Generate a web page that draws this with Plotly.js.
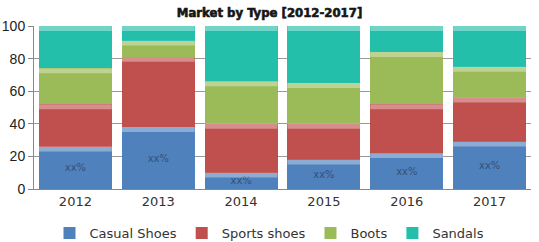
<!DOCTYPE html>
<html>
<head>
<meta charset="utf-8">
<script src="https://cdn.plot.ly/plotly-3.0.1.min.js"></script>
<style>
  html, body { margin: 0; padding: 0; background: #fff; }
  #chart { width: 539px; height: 242px; }
  /* heavier display weight for the chart heading */
  #chart .gtitle { stroke: #161616; stroke-width: 0.6px; }
</style>
</head>
<body>
<div id="chart"></div>
<script>
// Share of market by shoe type, per year (percent, stacked to 100)
const years = ['2012', '2013', '2014', '2015', '2016', '2017'];
const casualShoes = [26, 38, 10, 18, 22, 29];
const sportsShoes = [26, 43, 30, 22, 30, 27];
const boots       = [22, 10, 26, 25, 32, 19];
const sandals     = [26, 9, 34, 35, 16, 25];

const seriesNames = ['Casual Shoes', 'Sports shoes', 'Boots', 'Sandals'];
const seriesColors = ['#4f81bc', '#c0504e', '#9bbb58', '#23bfaa'];
const seriesValues = [casualShoes, sportsShoes, boots, sandals];
const casualLabels = years.map(() => 'xx%');

const traces = seriesValues.map((vals, k) => ({
  type: 'bar',
  name: seriesNames[k],
  x: years,
  y: vals,
  marker: { color: seriesColors[k], line: { width: 0 } },
  text: k === 0 ? casualLabels : undefined,
  textposition: k === 0 ? 'inside' : 'none',
  insidetextanchor: 'middle',
  constraintext: 'none',
  textfont: { family: 'DejaVu Sans Condensed, DejaVu Sans', size: 11, color: '#34507a' },
  hoverinfo: 'x+y+name'
}));

// Glossy highlight band on top of every stacked segment
const shapes = [];
const cum = years.map(() => 0);
seriesValues.forEach((vals) => {
  vals.forEach((v, i) => {
    cum[i] += v;
    shapes.push({
      type: 'rect', xref: 'x', yref: 'y',
      x0: i - 0.44, x1: i + 0.44,
      y0: cum[i] - 3, y1: cum[i],
      fillcolor: 'rgba(255,255,255,0.35)',
      line: { width: 0 },
      layer: 'above'
    });
  });
});

const layout = {
  width: 539,
  height: 242,
  margin: { l: 34, r: 8, t: 26, b: 53 },
  paper_bgcolor: '#ffffff',
  plot_bgcolor: '#ffffff',
  barmode: 'stack',
  bargap: 0.12,
  title: {
    text: '<b>Market by Type [2012-2017]</b>',
    font: { family: 'DejaVu Sans Condensed', size: 13, color: '#161616' },
    x: 0.5, xanchor: 'center',
    yref: 'container', y: 0.95, yanchor: 'middle'
  },
  xaxis: {
    type: 'category',
    showgrid: false,
    zeroline: false,
    showline: true,
    linecolor: '#888',
    linewidth: 1,
    ticks: '',
    automargin: false,
    tickfont: { family: 'DejaVu Sans', size: 13, color: '#333' }
  },
  yaxis: {
    range: [0, 100],
    dtick: 20,
    showgrid: true,
    gridcolor: '#9a9a9a',
    gridwidth: 1,
    zeroline: false,
    showline: true,
    linecolor: '#888',
    linewidth: 1,
    ticks: 'outside',
    ticklen: 5,
    tickcolor: '#888',
    automargin: false,
    tickfont: { family: 'Liberation Sans, Arial', size: 14, color: '#222' }
  },
  shapes: shapes,
  showlegend: true,
  legend: {
    orientation: 'h',
    xref: 'container', yref: 'container',
    x: 0.5, xanchor: 'center',
    y: 0.037, yanchor: 'middle',
    font: { family: 'DejaVu Sans', size: 13, color: '#333' },
    traceorder: 'normal'
  }
};

Plotly.newPlot('chart', traces, layout, { displayModeBar: false, staticPlot: true });
</script>
</body>
</html>
